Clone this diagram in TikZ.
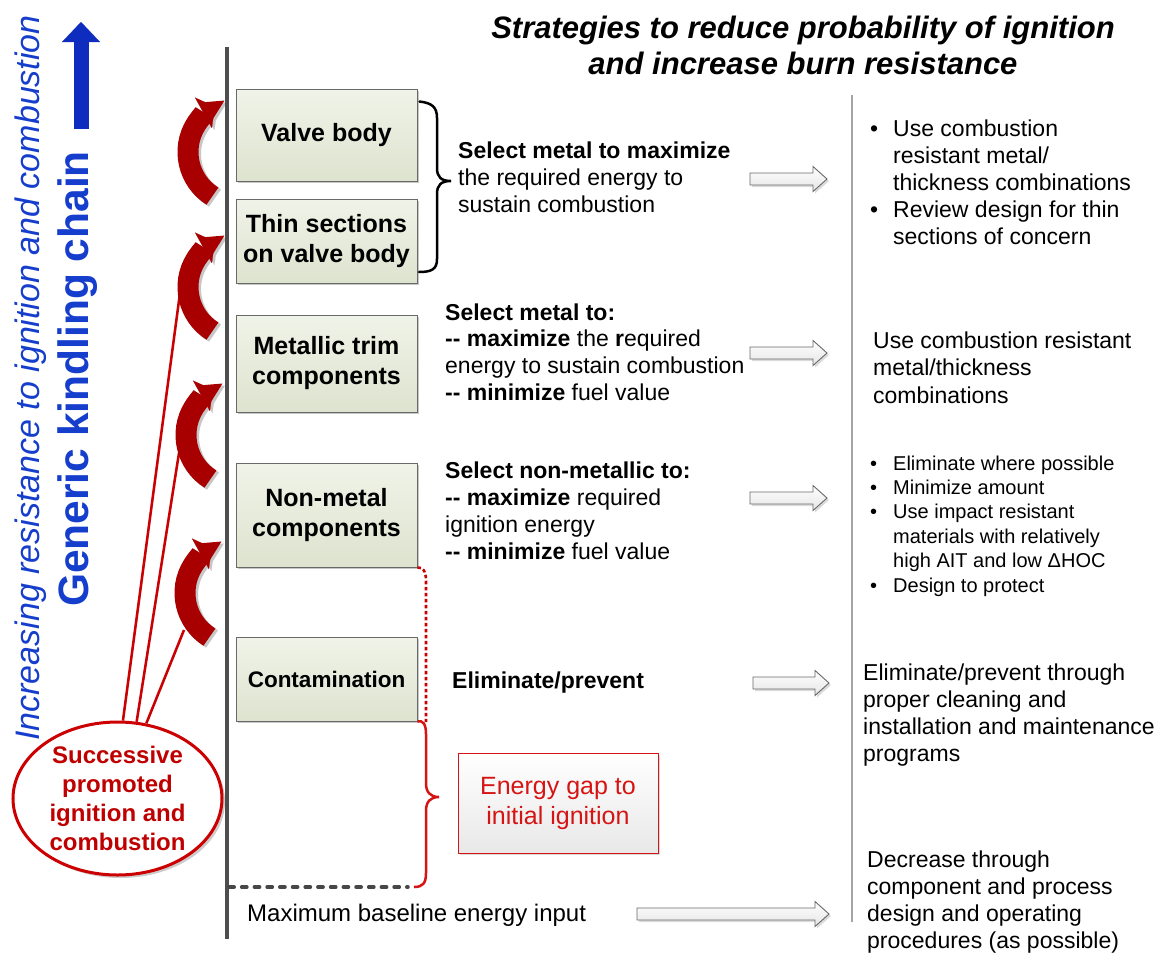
\documentclass[tikz,border=0pt]{standalone}
\usepackage{fontspec}
\setmainfont{Liberation Sans}
\usetikzlibrary{arrows.meta,shapes.geometric,shadows}
\definecolor{boxtop}{RGB}{240,243,232}
\definecolor{boxbot}{RGB}{222,227,207}
\definecolor{boxline}{RGB}{105,105,105}
\definecolor{arrred}{RGB}{168,0,0}
\definecolor{linered}{RGB}{204,0,0}
\definecolor{txtred}{RGB}{192,0,0}
\definecolor{gapred}{RGB}{214,20,20}
\definecolor{kblue}{RGB}{22,62,205}
\definecolor{ablue}{RGB}{14,44,190}
\definecolor{axisgray}{RGB}{78,78,78}
\definecolor{sepgray}{RGB}{165,165,165}
\newcommand\lns[1]{\begin{tabular}[t]{@{}l@{}}#1\end{tabular}}
\newcommand\bul{\makebox[23pt][l]{\textbullet}}
\newcommand\ind{\hspace*{23pt}}
\newcommand\hollowarr[3]{%
  \fill[black!14,xshift=2pt,yshift=-2pt] (#1,#3-6) -- (#2-14,#3-6) -- (#2-14,#3-12.5) -- (#2,#3) -- (#2-14,#3+12.5) -- (#2-14,#3+6) -- (#1,#3+6) -- cycle;
  \draw[hollow] (#1,#3-6) -- (#2-14,#3-6) -- (#2-14,#3-12.5) -- (#2,#3) -- (#2-14,#3+12.5) -- (#2-14,#3+6) -- (#1,#3+6) -- cycle;}
\newcommand\curvarr[2]{%
  \draw[black!22, line width=21pt, -{Triangle[width=35pt,length=13pt,line width=0.1pt]}, xshift=2.5pt, yshift=-2pt] (#1,#2) ++(122:52) arc[start angle=122,end angle=241,radius=52];
  \draw[arrred, line width=21pt, -{Triangle[width=35pt,length=13pt,line width=0.1pt]}] (#1,#2) ++(122:52) arc[start angle=122,end angle=241,radius=52];}
\begin{document}
\begin{tikzpicture}[x=1pt,y=-1pt,
  compbox/.style={draw=boxline, line width=1pt, top color=boxtop, bottom color=boxbot,
    minimum width=181pt, inner sep=0pt, align=center,
    font=\fontsize{25}{30}\selectfont\bfseries,
    drop shadow={shadow xshift=2pt, shadow yshift=-2pt, opacity=0.22, fill=black}},
  txt/.style={anchor=base west, inner sep=0pt, font=\fontsize{23}{27}\selectfont},
  hollow/.style={draw=boxline, line width=0.9pt, top color=white, bottom color=black!10},
  redline/.style={linered, line width=2.5pt},
  braceline/.style={line width=2.5pt, line cap=round},
]
\path[use as bounding box, fill=white] (0,0) rectangle (1162,954);

% title
\node[anchor=base, inner sep=0pt, font=\fontsize{31}{36.5}\selectfont\bfseries\itshape] (title) at (803,38)
  {\begin{tabular}[t]{@{}c@{}}Strategies to reduce probability of ignition\\ and increase burn resistance\end{tabular}};

% left rotated texts
\node[rotate=90, inner sep=0pt, text=kblue, font=\fontsize{34}{40}\selectfont\itshape] (inc) at (31,378)
  {Increasing resistance to ignition and combustion};
\node[rotate=90, inner sep=0pt, text=kblue, font=\fontsize{42.5}{50}\selectfont\bfseries] (gen) at (78,379)
  {Generic kindling chain};
\coordinate (bA) at (81,129);
\coordinate (bB) at (81,22);
\draw[ablue, line width=15pt, -{Triangle[width=38pt,length=20pt,line width=0.1pt]}] (bA) -- (bB);

% axes
\coordinate (axT) at (227,47);
\coordinate (axB) at (227,939);
\coordinate (sepT) at (852,95);
\coordinate (sepB) at (852,922);
\draw[sepgray, line width=2pt] (sepT) -- (sepB);

% ellipse
\node[ellipse, draw=linered, line width=3pt, fill=white, minimum width=209pt, minimum height=153pt, inner sep=0pt,
  drop shadow={shadow xshift=3pt, shadow yshift=-3pt, opacity=0.2, fill=black}] (el) at (117.5,798.5) {};
\node[align=center, inner sep=0pt, text=txtred, font=\fontsize{24}{29}\selectfont\bfseries] (elt) at (el.center)
  {Successive\\ promoted\\ ignition and\\ combustion};

% red lines from ellipse
\coordinate (l1) at (180,293);
\coordinate (l2) at (179,453);
\coordinate (l3) at (184,630);
\draw[black!13, line width=2.5pt, xshift=2.5pt] (el.86) -- (l1);
\draw[black!13, line width=2.5pt, xshift=2.5pt] (el.76) -- (l2);
\draw[black!13, line width=2.5pt, xshift=2.5pt] (el.69) -- (l3);
\draw[redline] (el.86) -- (l1);
\draw[redline] (el.76) -- (l2);
\draw[redline] (el.69) -- (l3);

% curved red arrows
\curvarr{240}{152}
\curvarr{240}{287}
\curvarr{238}{435}
\curvarr{237}{593}

\draw[axisgray, line width=3.5pt] (axT) -- (axB);

% component boxes
\node[compbox, minimum height=92pt] (vb) at (326.5,135) {Valve body};
\node[compbox, minimum height=84pt] (ts) at (326.5,241) {Thin sections\\ on valve body};
\node[compbox, minimum height=97pt] (mt) at (326.5,363.5) {Metallic trim\\ components};
\node[compbox, minimum height=104pt] (nm) at (326.5,515) {Non-metal\\ components};
\node[compbox, minimum height=84pt, font=\fontsize{22.5}{27}\selectfont\bfseries] (ct) at (326.5,679) {Contamination};

% black brace
\draw[braceline] (vb.north east) ++(2,13) .. controls (432,103) and (437,107) .. (437,118)
  -- (437,168) .. controls (437,177) and (441,181) .. (451,181)
  .. controls (441,181) and (437,185) .. (437,194)
  -- (437,259) .. controls (437,269) and (432,272) .. (419,272);

% red dotted and red brace
\draw[linered, line width=2.6pt, dash pattern=on 3.5pt off 2.5pt] (nm.south east) .. controls (423,567) and (426,571) .. (426,581) -- (426,722);
\draw[gapred, line width=2.5pt] (ct.south east) .. controls (423,720) and (426,724) .. (426,734)
  -- (426,783) .. controls (426,792) and (430,797) .. (439,797)
  .. controls (430,797) and (426,802) .. (426,811)
  -- (426,873) .. controls (426,883) and (423,887) .. (414,887);
\coordinate (dotA) at (229,887);
\coordinate (dotB) at (408,887);
\draw[black!72, line width=3.5pt, line cap=round, dash pattern=on 5.2pt off 7.5pt] (dotA) -- (dotB);

% energy gap box
\node[draw=gapred, line width=1pt, top color=white, bottom color=black!9, minimum width=200pt, minimum height=100pt,
  inner sep=0pt, align=center, text=gapred, font=\fontsize{25}{30}\selectfont,
  drop shadow={shadow xshift=2pt, shadow yshift=-2pt, opacity=0.15, fill=black}] (gap) at (558,803)
  {Energy gap to\\ initial ignition};

% middle texts
\node[txt] (m1) at (458,158) {\lns{\textbf{Select metal to maximize}\\ the required energy to\\ sustain combustion}};
\node[txt, font=\fontsize{23}{26.7}\selectfont] (m2) at (445,320) {\lns{\textbf{Select metal to:}\\ \textbf{-{}- maximize} the \textbf{r}equired\\ energy to sustain combustion\\ \textbf{-{}- minimize} fuel value}};
\node[txt, font=\fontsize{23}{27.3}\selectfont] (m3) at (445,478) {\lns{\textbf{Select non-metallic to:}\\ \textbf{-{}- maximize} required\\ ignition energy\\ \textbf{-{}- minimize} fuel value}};
\node[txt] (m4) at (452,688) {\textbf{Eliminate/prevent}};
\node[txt, font=\fontsize{24}{28}\selectfont] (mb) at (247,921) {Maximum baseline energy input};

% hollow arrows
\hollowarr{750}{827}{179}
\hollowarr{750}{827}{353}
\hollowarr{750}{827}{498}
\hollowarr{753}{829}{683}
\hollowarr{637}{829}{914}

% right texts
\node[txt] (r1) at (870,136) {\lns{\bul Use combustion\\ \ind resistant metal/\\ \ind thickness combinations\\ \bul Review design for thin\\ \ind sections of concern}};
\node[txt, font=\fontsize{23}{27.5}\selectfont] (r2) at (873,348) {\lns{Use combustion resistant\\ metal/thickness\\ combinations}};
\node[txt, font=\fontsize{20}{24.4}\selectfont] (r3) at (870,470) {\lns{\bul Eliminate where possible\\ \bul Minimize amount\\ \bul Use impact resistant\\ \ind materials with relatively\\ \ind high AIT and low ΔHOC\\ \bul Design to protect}};
\node[txt, font=\fontsize{23}{27.3}\selectfont] (r4) at (863,680) {\lns{Eliminate/prevent through\\ proper cleaning and\\ installation and maintenance\\ programs}};
\node[txt] (r5) at (867,867) {\lns{Decrease through\\ component and process\\ design and operating\\ procedures (as possible)}};
\end{tikzpicture}
\end{document}
